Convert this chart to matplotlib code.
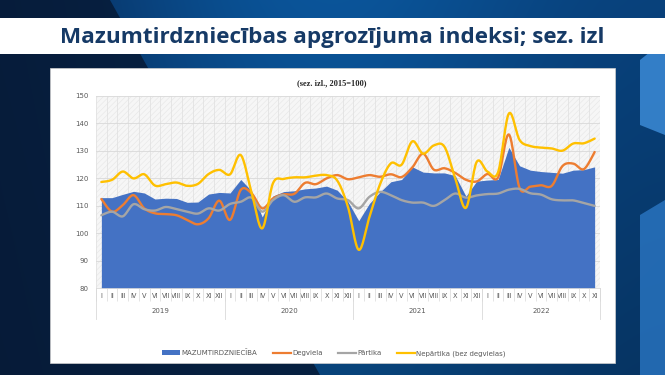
import numpy as np
import matplotlib.pyplot as plt
from matplotlib.patches import Rectangle, Polygon
from matplotlib.lines import Line2D

# Data (sez. izl., 2015=100), monthly 2019 I - 2022 XI
months = ['I', 'II', 'III', 'IV', 'V', 'VI', 'VII', 'VIII', 'IX', 'X', 'XI', 'XII']
years = ['2019', '2020', '2021', '2022']
month_labels = months * 3 + months[:11]

retail = [113.0, 113.0, 114.2, 115.3, 114.7, 112.5, 112.8, 112.7, 111.3, 111.4, 114.3, 114.9,
          114.7, 119.6, 115.5, 106.0, 113.6, 115.2, 115.5, 116.2, 116.5, 117.2, 115.7, 111.5,
          104.6, 110.9, 115.1, 118.8, 119.6, 124.2, 122.3, 122.0, 122.0, 121.0, 113.5, 119.0,
          119.4, 119.6, 131.3, 124.6, 123.0, 122.5, 122.2, 121.9, 123.0, 123.2, 124.2]
fuel = [112.5, 107.9, 110.3, 113.9, 109.1, 107.3, 107.0, 106.6, 104.9, 103.3, 105.5, 111.9,
        104.9, 115.8, 114.6, 109.1, 112.7, 114.2, 114.4, 118.4, 117.9, 120.0, 121.2, 119.7,
        120.4, 121.2, 120.6, 121.5, 120.5, 124.0, 129.0, 123.2, 123.7, 122.0, 119.5, 118.9,
        121.6, 120.4, 136.0, 116.5, 117.0, 117.5, 117.3, 124.5, 125.4, 123.4, 129.6]
food = [106.6, 107.9, 106.2, 110.6, 108.8, 108.3, 109.6, 108.8, 107.9, 107.2, 109.1, 108.3,
        110.7, 111.5, 113.0, 107.9, 112.1, 113.9, 111.5, 113.1, 113.1, 114.5, 112.7, 112.1,
        109.1, 113.3, 115.1, 113.9, 112.1, 111.2, 111.2, 110.0, 112.1, 114.5, 113.0, 113.8,
        114.3, 114.5, 115.9, 116.2, 114.6, 114.1, 112.4, 112.0, 112.0, 111.0, 110.0]
nonfood = [118.7, 119.5, 122.5, 120.0, 121.5, 117.4, 117.9, 118.5, 117.3, 118.0, 121.6, 123.1,
           121.5, 128.5, 115.0, 101.8, 118.2, 119.8, 120.4, 120.4, 121.0, 121.2, 119.2, 109.6,
           94.0, 106.0, 118.0, 125.5, 125.0, 133.5, 129.0, 132.0, 131.5, 120.0, 109.3, 126.0,
           122.5, 122.3, 143.6, 134.0, 131.8, 131.2, 130.9, 130.1, 132.7, 132.8, 134.5]


def smooth(vals, n=16):
    # Bezier smoothing like Excel's "smoothed line"
    y = np.asarray(vals, float)
    x = np.arange(len(y), dtype=float)
    xs, ys = [], []
    t = np.linspace(0, 1, n, endpoint=False)
    last = len(y) - 1
    for i in range(last):
        i0, i3 = max(i - 1, 0), min(i + 2, last)
        for arr, out in ((x, xs), (y, ys)):
            p0, p1, p2, p3 = arr[i0], arr[i], arr[i + 1], arr[i3]
            c1 = p1 + (p2 - p0) / 6
            c2 = p2 - (p3 - p1) / 6
            out.extend((1 - t) ** 3 * p1 + 3 * (1 - t) ** 2 * t * c1
                       + 3 * (1 - t) * t ** 2 * c2 + t ** 3 * p2)
    xs.append(x[-1])
    ys.append(y[-1])
    return np.array(xs), np.array(ys)


W, H = 665, 375
plt.rcParams['hatch.linewidth'] = 0.4
fig = plt.figure(figsize=(W / 100, H / 100), dpi=100)

# slide background
bg = fig.add_axes([0, 0, 1, 1])
bg.set_xlim(0, W)
bg.set_ylim(H, 0)
bg.axis('off')
gx = np.linspace(0, 1, W)
gy = np.linspace(0, 1, H)[:, None]
c_left = np.array([0.03, 0.14, 0.30])
c_mid = np.array([0.04, 0.33, 0.60])
c_right = np.array([0.03, 0.24, 0.46])
wmid = np.exp(-((gx - 0.5) / 0.38) ** 2)
base = (c_left[None, :] * (1 - gx[:, None]) + c_right[None, :] * gx[:, None]) * (1 - wmid[:, None]) \
    + c_mid[None, :] * wmid[:, None]
img = np.repeat(base[None, :, :], H, axis=0) * (1 - 0.2 * gy[:, :, None])
bg.imshow(np.clip(img, 0, 1), extent=(0, W, H, 0), aspect='auto', zorder=0)
bg.add_patch(Polygon([(0, 0), (110, 0), (320, 375), (0, 375)], closed=True,
                     facecolor='#061a36', edgecolor='none', alpha=0.85, zorder=1))
bg.add_patch(Polygon([(640, 60), (665, 40), (665, 135), (640, 125)], closed=True,
                     facecolor='#3f8fdc', edgecolor='none', alpha=0.8, zorder=1))
bg.add_patch(Polygon([(640, 215), (665, 200), (665, 375), (640, 375)], closed=True,
                     facecolor='#2f7fd0', edgecolor='none', alpha=0.7, zorder=1))
bg.add_patch(Rectangle((0, 18), W, 36, facecolor='white', edgecolor='none', zorder=2))
bg.text(332, 37, 'Mazumtirdzniecības apgrozījuma indeksi; sez. izl', ha='center', va='center',
        fontsize=16.2, fontweight='bold', color='#163a66', family='Open Sans', zorder=3)
bg.add_patch(Rectangle((50, 68), 565, 295, facecolor='white', edgecolor='#d0d0d0',
                       linewidth=0.5, zorder=2))
bg.text(332, 83, '(sez. izl., 2015=100)', ha='center', va='center', fontsize=6,
        fontweight='bold', family='Liberation Serif', color='#262626', zorder=3)

# chart
ax = fig.add_axes([96 / W, 1 - 288.3 / H, 504 / W, 192.3 / H])
ax.set_facecolor('#f6f6f6')
ax.add_patch(Rectangle((0, 0), 1, 1, transform=ax.transAxes, facecolor='none',
                       edgecolor='#e6e6e6', hatch='//////', linewidth=0, zorder=0))

x = np.arange(len(retail))
ax.fill_between(x, retail, 80, color='#4472C4', linewidth=0, zorder=2)
for vals, col in ((fuel, '#ED7D31'), (food, '#A5A5A5'), (nonfood, '#FFC000')):
    sx, sy = smooth(vals)
    ax.plot(sx, sy, color=col, linewidth=1.7, zorder=3, solid_capstyle='round')

ax.set_xlim(-0.5, len(retail) - 0.5)
ax.set_ylim(80, 150)
ax.set_yticks(np.arange(80, 151, 10))
ax.set_xticks(x, month_labels)
ax.set_xticks(np.arange(-0.5, len(retail), 1), minor=True)
ax.tick_params(axis='x', which='major', length=0, pad=3.2, labelsize=4.8, labelcolor='#595959')
ax.tick_params(axis='x', which='minor', length=9, width=0.5, color='#d9d9d9')
ax.tick_params(axis='y', length=0, pad=5.5, labelsize=5, labelcolor='#595959')
ax.grid(axis='y', which='major', color='#d9d9d9', linewidth=0.6, zorder=1)
ax.grid(axis='x', which='minor', color='#e2e2e2', linewidth=0.6, zorder=1)
ax.set_axisbelow(True)
for s in ax.spines.values():
    s.set_visible(False)
ax.spines['bottom'].set_visible(True)
ax.spines['bottom'].set_color('#d9d9d9')
ax.spines['bottom'].set_linewidth(0.6)

# year level of the category axis
tr = ax.get_xaxis_transform()
for k, yr in enumerate(years):
    start = k * 12
    end = min(start + 12, len(retail))
    ax.text((start + end - 1) / 2, -0.118, yr, transform=tr, ha='center', va='center',
            fontsize=5, color='#595959')
    ax.plot([start - 0.5, start - 0.5], [0, -0.16], transform=tr, color='#d9d9d9',
            linewidth=0.6, clip_on=False)
ax.plot([len(retail) - 0.5] * 2, [0, -0.16], transform=tr, color='#d9d9d9',
        linewidth=0.6, clip_on=False)

handles = [Rectangle((0, 0), 1, 1, facecolor='#4472C4', edgecolor='none'),
           Line2D([], [], color='#ED7D31', linewidth=1.6),
           Line2D([], [], color='#A5A5A5', linewidth=1.6),
           Line2D([], [], color='#FFC000', linewidth=1.6)]
names = ['MAZUMTIRDZNIECĪBA', 'Degviela', 'Pārtika', 'Nepārtika (bez degvielas)']
leg = fig.legend(handles, names, loc='center', bbox_to_anchor=(334 / W, 1 - 353 / H), ncol=4,
                 frameon=False, fontsize=5, handlelength=2.6, handleheight=0.6,
                 columnspacing=2.2, handletextpad=0.2)
for t in leg.get_texts():
    t.set_color('#595959')

fig.savefig('out.png', dpi=100)
